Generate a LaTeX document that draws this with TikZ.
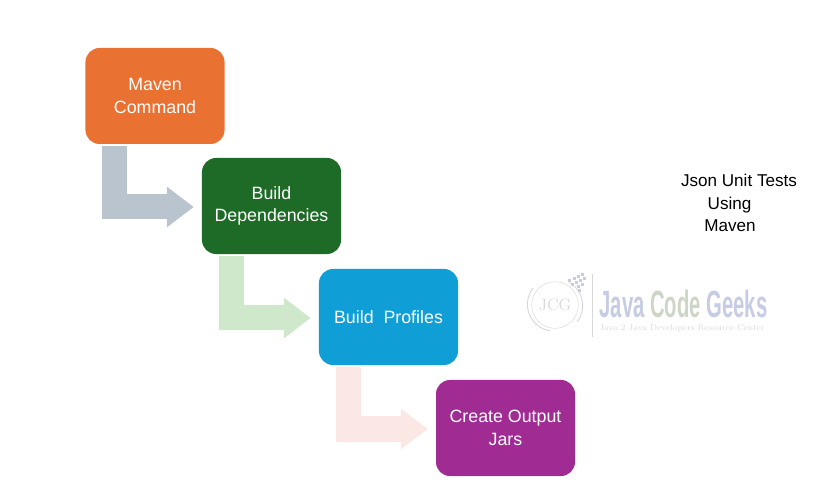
\documentclass[tikz,border=0pt]{standalone}
\usepackage{fontspec}
\setmainfont{Liberation Sans}
\newfontfamily\logoserif{Latin Modern Roman}
\usetikzlibrary{arrows.meta}
\definecolor{orangebox}{HTML}{E97132}
\definecolor{greenbox}{HTML}{1D6B27}
\definecolor{bluebox}{HTML}{0F9ED5}
\definecolor{purplebox}{HTML}{A02B93}
\definecolor{greyarrow}{HTML}{B9C4CE}
\definecolor{greenarrow}{HTML}{CFE8CC}
\definecolor{pinkarrow}{HTML}{FBE8E4}
\definecolor{logoblue}{HTML}{C5CCE4}
\definecolor{logogreen}{HTML}{CDD6C6}
\definecolor{logogrey}{HTML}{D8D8D8}
\tikzset{
	stepbox/.style={rounded corners=0.42cm, minimum width=4.17cm, minimum height=2.88cm, align=center, text=white, font=\fontsize{15.2}{19}\selectfont},
	flow/.style={line width=0.75cm, shorten >=0.24cm, -{Triangle[length=0.81cm,width=1.17cm]}}
}
\begin{document}
\begin{tikzpicture}[x=0.03cm,y=-0.03cm]
	\useasboundingbox (0,0) rectangle (829,484);

	\node[stepbox,fill=orangebox] (maven) at (155,96) {Maven\\Command};
	\node[stepbox,fill=greenbox] (deps) at (271.5,206) {Build\\Dependencies};
	\node[stepbox,fill=bluebox] (profiles) at (388.5,317) {Build\ \ Profiles};
	\node[stepbox,fill=purplebox] (jars) at (505.5,428) {Create Output\\Jars};

	\draw[flow,greyarrow] ([xshift=-1.21cm,yshift=-0.06cm]maven.south) |- ([yshift=-0.03cm]deps.west);
	\draw[flow,greenarrow] ([xshift=-1.21cm,yshift=-0.06cm]deps.south) |- ([yshift=-0.03cm]profiles.west);
	\draw[flow,pinkarrow] ([xshift=-1.21cm,yshift=-0.06cm]profiles.south) |- ([yshift=-0.03cm]jars.west);

	\node[align=left, font=\fontsize{14.6}{19.4}\selectfont] (title) at (739,203) {Json Unit Tests\\\hspace*{0.8cm}Using\\\hspace*{0.7cm}Maven};

	% faded logo
	\node[draw=logogrey, circle, minimum size=1.4cm, inner sep=0pt, text=logogrey, font=\logoserif\fontsize{14}{14}\selectfont] (jcg) at (555,305) {JCG};
	\draw[logogrey, thick] (533,288) arc[start angle=142, end angle=262, radius=0.8cm];
	\draw[logogrey, thick] (577,322) arc[start angle=-38, end angle=60, radius=0.8cm];
	\foreach \dotx/\doty in {568/279,573/277,577/275,581/273,571/283,575/281,579/279,583/277,577/285,581/283,578/289}
		\fill[logoblue] (\dotx,\doty) rectangle ++(3,3);
	\coordinate (bartop) at (592,274);
	\coordinate (barbottom) at (592,337);
	\draw[logogrey] (bartop) -- (barbottom);
	\node[inner sep=0pt, font=\bfseries\fontsize{27}{27}\selectfont] (logotext) at (683.5,304) {\scalebox{0.64}[1.2]{\textcolor{logoblue}{Java} \textcolor{logogreen}{Code} \textcolor{logoblue}{Geeks}}};
	\node[inner sep=0pt, text=logogrey, font=\logoserif\scshape\fontsize{7}{7}\selectfont] (tagline) at (682,328) {Java 2 Java Developers Resource Center};
\end{tikzpicture}
\end{document}
